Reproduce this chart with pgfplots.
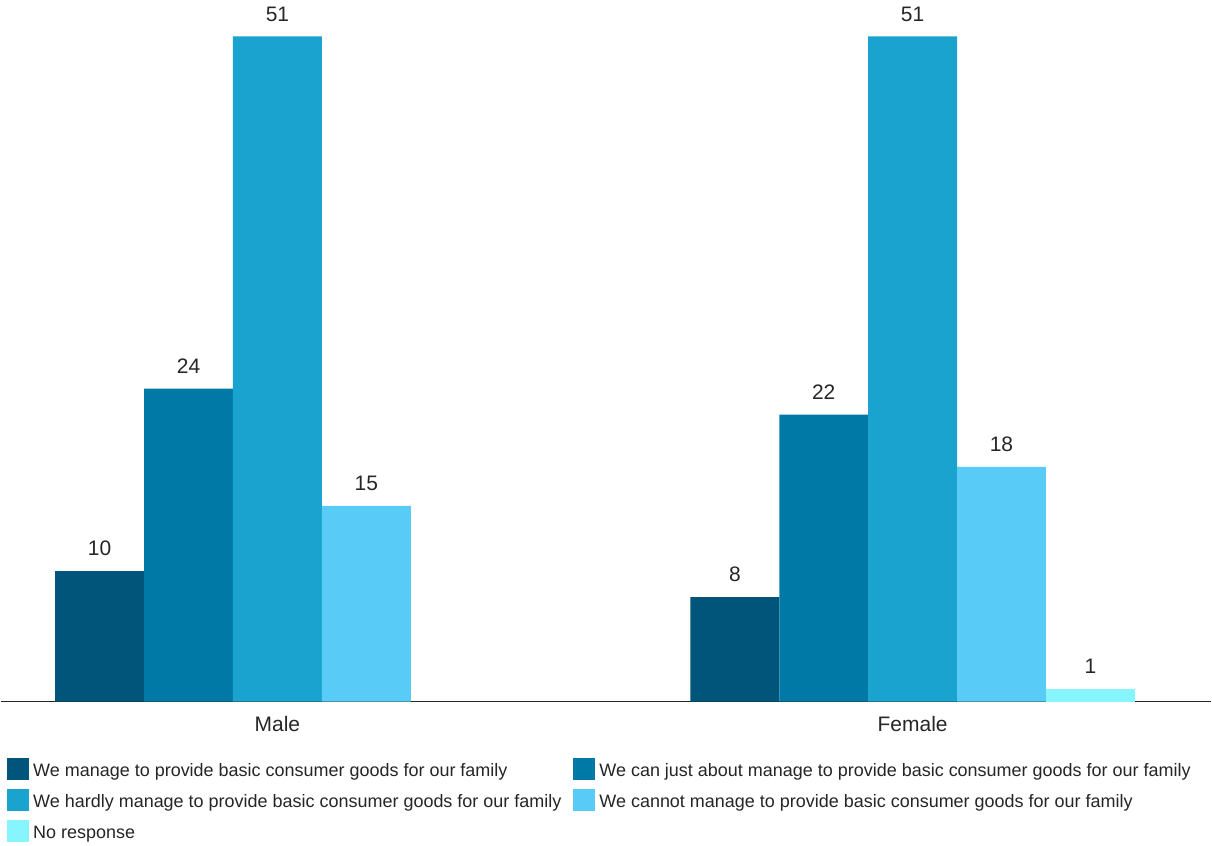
\documentclass[border=0pt]{standalone}
\usepackage{pgfplots}
\pgfplotsset{compat=1.18}
\usepackage{fontspec}
\setmainfont{Liberation Sans}
\definecolor{c1}{HTML}{01547A}
\definecolor{c2}{HTML}{0179A6}
\definecolor{c3}{HTML}{1BA3D0}
\definecolor{c4}{HTML}{58CBF7}
\definecolor{c5}{HTML}{87F5FD}
\begin{document}
\begin{tikzpicture}
\begin{axis}[
  scale only axis, width=606pt, height=350.5pt,
  ybar=0pt, bar width=44.5pt,
  xmin=-0.4355, xmax=1.4701, ymin=0, ymax=53.67,
  clip=false,
  axis x line*=bottom, axis y line=none,
  x axis line style={line width=0.8pt, black!85},
  xtick={0,1}, xticklabels={Male,Female},
  major tick length=0pt,
  xticklabel style={font=\fontsize{10.5}{12}\selectfont, text=black!85, yshift=-4pt},
  nodes near coords,
  every node near coord/.append style={font=\fontsize{10.5}{12}\selectfont, text=black!85, yshift=4pt,
     /pgf/number format/assume math mode=true},
  legend columns=2,
  legend cell align=left,
  legend style={draw=none, at={(0.005,-0.08)}, anchor=north west,
    font=\fontsize{9}{11}\selectfont, text=black!85,
    /tikz/every even column/.append style={column sep=4pt},
    row sep=2.5pt, inner sep=0pt},
  legend image code/.code={\fill (0pt,-4pt) rectangle (11pt,7pt);},
]
\addplot[draw=none, fill=c1] coordinates {(0,10) (1,8)};
\addplot[draw=none, fill=c2] coordinates {(0,24) (1,22)};
\addplot[draw=none, fill=c3] coordinates {(0,51) (1,51)};
\addplot[draw=none, fill=c4] coordinates {(0,15) (1,18)};
\addplot[draw=none, fill=c5] coordinates {(1,1)};
\legend{We manage to provide basic consumer goods for our family,
We can just about manage to provide basic consumer goods for our family,
We hardly manage to provide basic consumer goods for our family,
We cannot manage to provide basic consumer goods for our family,
No response}
\path (rel axis cs:0,1) -- (rel axis cs:1,1);
\end{axis}
\end{tikzpicture}
\end{document}
